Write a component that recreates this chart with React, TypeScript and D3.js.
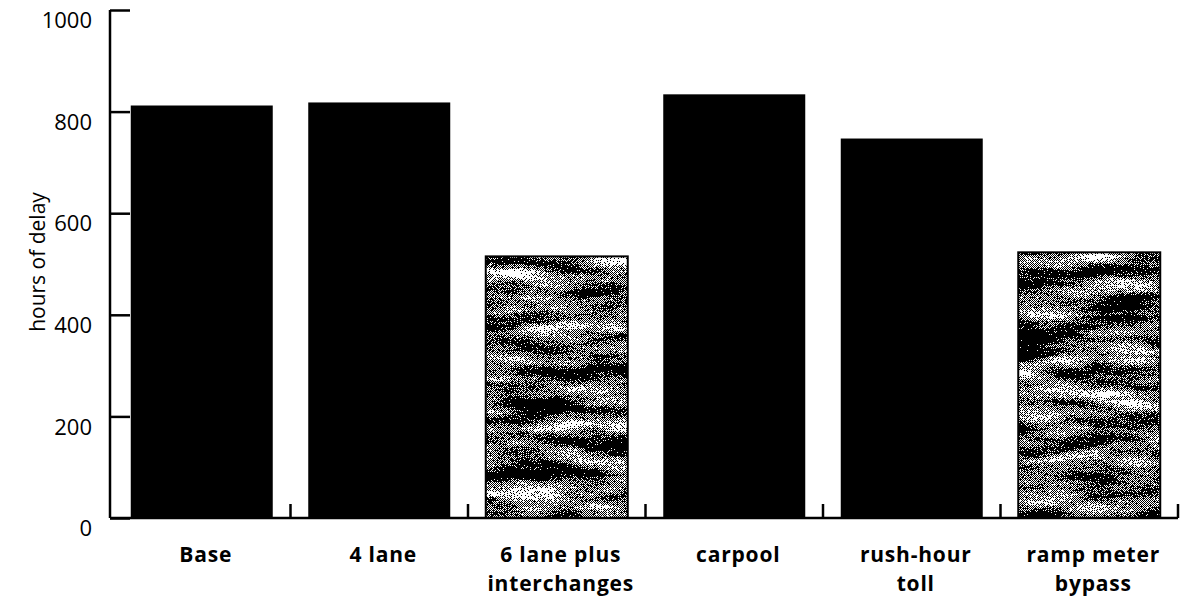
import React, { useEffect, useRef } from "react";
import * as d3 from "d3";

// values
const categories = ["Base", "4 lane", "6 lane plus\ninterchanges", "carpool", "rush-hour\ntoll", "ramp meter\nbypass"];
const hours = [812, 818, 515, 834, 747, 523];
const textured = [false, false, true, false, false, true];
const yTicks = [0, 200, 400, 600, 800, 1000];

const width = 1183;
const height = 596;

export default function App() {
  const ref = useRef<SVGSVGElement>(null);

  useEffect(() => {
    const svg = d3.select(ref.current);
    svg.selectAll("*").remove();

    const x = d3
      .scaleBand()
      .domain(categories)
      .range([113, 1178])
      .paddingInner(0.2)
      .paddingOuter(0.1);
    const y = d3.scaleLinear().domain([0, 1000]).range([518, 10]);

    // grainy grey fill for the two textured bars
    const defs = svg.append("defs");
    const chk = defs
      .append("pattern")
      .attr("id", "chk")
      .attr("width", 2)
      .attr("height", 2)
      .attr("patternUnits", "userSpaceOnUse");
    chk.append("rect").attr("width", 2).attr("height", 2).attr("fill", "#fff");
    chk.append("rect").attr("width", 1).attr("height", 1).attr("fill", "#000");
    chk.append("rect").attr("x", 1).attr("y", 1).attr("width", 1).attr("height", 1).attr("fill", "#000");

    const f = defs
      .append("filter")
      .attr("id", "grain")
      .attr("x", 0)
      .attr("y", 0)
      .attr("width", 1)
      .attr("height", 1)
      .attr("color-interpolation-filters", "sRGB");
    f.append("feTurbulence")
      .attr("type", "fractalNoise")
      .attr("baseFrequency", "0.012 0.06")
      .attr("numOctaves", 3)
      .attr("seed", 7)
      .attr("result", "lowRaw");
    f.append("feColorMatrix")
      .attr("in", "lowRaw")
      .attr("values", "1 0 0 0 0  1 0 0 0 0  1 0 0 0 0  0 0 0 0 1")
      .attr("result", "low");
    f.append("feTurbulence")
      .attr("type", "fractalNoise")
      .attr("baseFrequency", "0.7")
      .attr("numOctaves", 1)
      .attr("seed", 2)
      .attr("result", "highRaw");
    f.append("feColorMatrix")
      .attr("in", "highRaw")
      .attr("values", "1 0 0 0 0  1 0 0 0 0  1 0 0 0 0  0 0 0 0 1")
      .attr("result", "high");
    f.append("feComposite")
      .attr("in", "low")
      .attr("in2", "high")
      .attr("operator", "arithmetic")
      .attr("k1", 0)
      .attr("k2", 1.2)
      .attr("k3", 0.9)
      .attr("k4", -0.52)
      .attr("result", "mix");
    // dark speckle where mix is high
    f.append("feColorMatrix")
      .attr("in", "mix")
      .attr("values", "0 0 0 0 0  0 0 0 0 0  0 0 0 0 0  1 0 0 0 0")
      .attr("result", "blkA");
    const ctB = f.append("feComponentTransfer").attr("in", "blkA").attr("result", "blk");
    ctB.append("feFuncA").attr("type", "discrete").attr("tableValues", "0 0 0 0 0 0 1 1 1 1");
    // light speckle where mix is low
    f.append("feColorMatrix")
      .attr("in", "mix")
      .attr("values", "0 0 0 0 1  0 0 0 0 1  0 0 0 0 1  -1 0 0 0 1")
      .attr("result", "whtA");
    const ctW = f.append("feComponentTransfer").attr("in", "whtA").attr("result", "wht");
    ctW.append("feFuncA").attr("type", "discrete").attr("tableValues", "0 0 0 0 0 0 0 1 1 1");
    const merge = f.append("feMerge");
    merge.append("feMergeNode").attr("in", "SourceGraphic");
    merge.append("feMergeNode").attr("in", "wht");
    merge.append("feMergeNode").attr("in", "blk");

    // bars
    const bars = svg.append("g");
    categories.forEach((c, i) => {
      const bx = x(c)!;
      const by = y(hours[i]);
      const bh = y(0) - by;
      if (textured[i]) {
        bars
          .append("rect")
          .attr("x", bx)
          .attr("y", by)
          .attr("width", x.bandwidth())
          .attr("height", bh)
          .attr("fill", "url(#chk)")
          .attr("filter", "url(#grain)");
        bars
          .append("rect")
          .attr("x", bx)
          .attr("y", by)
          .attr("width", x.bandwidth())
          .attr("height", bh)
          .attr("fill", "none")
          .attr("stroke", "#000")
          .attr("stroke-width", 2);
      } else {
        bars
          .append("rect")
          .attr("x", bx)
          .attr("y", by)
          .attr("width", x.bandwidth())
          .attr("height", bh)
          .attr("fill", "#000");
      }
    });

    // y axis, ticks pointing inward
    const yAxis = d3
      .axisLeft(y)
      .tickValues(yTicks)
      .tickSize(-20)
      .tickPadding(18)
      .tickFormat(d3.format("d"));
    svg
      .append("g")
      .attr("transform", "translate(110,0)")
      .call(yAxis)
      .call((g) => g.select(".domain").attr("stroke-width", 2.5).attr("d", `M0,${y(0)}V${y(1000)}`))
      .call((g) => g.selectAll(".tick line").attr("stroke-width", 2.5))
      .call((g) =>
        g
          .selectAll(".tick text")
          .attr("dy", "0.8em")
          .attr("font-family", "Open Sans")
          .attr("font-size", 22)
          .attr("fill", "#000")
      );

    // x axis line with upward ticks at band edges
    const step = x.step();
    const edges = categories.map((c) => x(c)! + x.bandwidth() + (step - x.bandwidth()) / 2);
    const xg = svg.append("g");
    xg.append("line")
      .attr("x1", 110)
      .attr("x2", edges[edges.length - 1])
      .attr("y1", y(0))
      .attr("y2", y(0))
      .attr("stroke", "#000")
      .attr("stroke-width", 2.5);
    xg.selectAll("line.edge")
      .data(edges)
      .join("line")
      .attr("class", "edge")
      .attr("x1", (d) => d)
      .attr("x2", (d) => d)
      .attr("y1", y(0))
      .attr("y2", y(0) - 14)
      .attr("stroke", "#000")
      .attr("stroke-width", 2.5);

    // category labels
    const lab = svg
      .append("g")
      .attr("font-family", "Open Sans")
      .attr("font-weight", 700)
      .attr("font-size", 21)
      .attr("letter-spacing", 0.8)
      .attr("text-anchor", "middle");
    categories.forEach((c) => {
      const cx = x(c)! + x.bandwidth() / 2 + 4;
      const t = lab.append("text").attr("x", cx).attr("y", 562);
      c.split("\n").forEach((line, j) => {
        t.append("tspan").attr("x", cx).attr("dy", j === 0 ? 0 : 29).text(line);
      });
    });

    // y title
    svg
      .append("text")
      .attr("transform", "translate(45,262) rotate(-90)")
      .attr("text-anchor", "middle")
      .attr("font-family", "Open Sans")
      .attr("font-size", 21)
      .text("hours of delay");
  }, []);

  return (
    <svg
      ref={ref}
      width={width}
      height={height}
      style={{ position: "absolute", left: 0, top: 0, background: "#fff" }}
    />
  );
}
